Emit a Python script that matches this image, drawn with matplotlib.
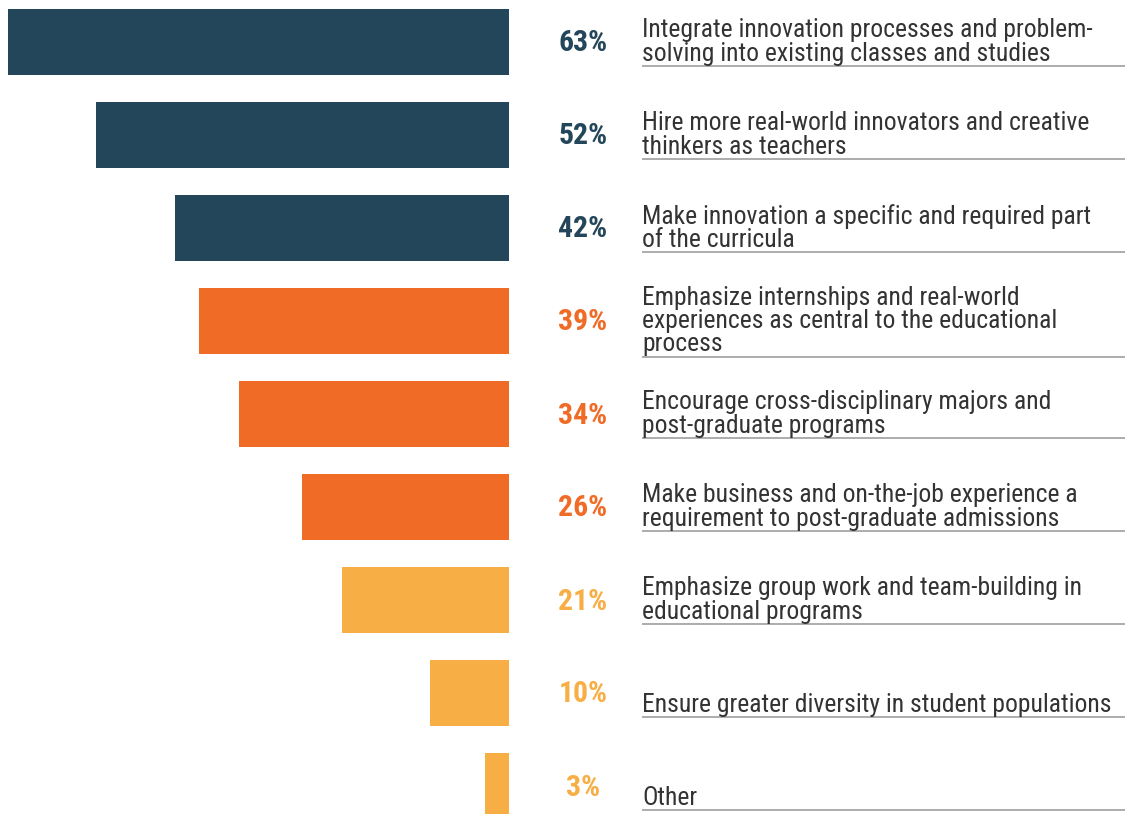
import matplotlib.pyplot as plt
from matplotlib.transforms import Affine2D, blended_transform_factory

labels = [
    "Integrate innovation processes and problem-\nsolving into existing classes and studies",
    "Hire more real-world innovators and creative\nthinkers as teachers",
    "Make innovation a specific and required part\nof the curricula",
    "Emphasize internships and real-world\nexperiences as central to the educational\nprocess",
    "Encourage cross-disciplinary majors and\npost-graduate programs",
    "Make business and on-the-job experience a\nrequirement to post-graduate admissions",
    "Emphasize group work and team-building in\neducational programs",
    "Ensure greater diversity in student populations",
    "Other",
]
values = [63, 52, 42, 39, 34, 26, 21, 10, 3]
groups = ["top", "top", "top", "mid", "mid", "mid", "low", "low", "low"]

COLORS = {"top": "#24465b", "mid": "#f06c26", "low": "#f7ae45"}
TEXT_COLOR = "#333333"
RULE_COLOR = "#a6a6a6"
FONT = ["Roboto Condensed", "Roboto", "DejaVu Sans"]

W, H = 1125, 814
DPI = 100
BAR_RIGHT = 509
PX_PER_PCT = 7.95
ROW_PX = 93
FIRST_CENTER = 42
LINE_PX = 24.5          # baseline-to-baseline distance of label lines
LABEL_WIDTH_PX = 471    # width of "Ensure greater diversity ..." in the reference
PCT_WIDTH_PX = 49       # width of "63%" in the reference


def fit_size(fig, text, target_px, weight="normal", base=15.0):
    probe = fig.text(0, 0, text, fontsize=base, fontweight=weight, family=FONT)
    width = probe.get_window_extent(fig.canvas.get_renderer()).width
    probe.remove()
    return base * target_px / width


fig = plt.figure(figsize=(W / DPI, H / DPI), dpi=DPI)
ax = fig.add_axes([0, 0, BAR_RIGHT / W, 1])
ax.set_xlim(BAR_RIGHT / PX_PER_PCT, 0)
ax.set_ylim((H - FIRST_CENTER) / ROW_PX, -FIRST_CENTER / ROW_PX)
ax.axis("off")

ypos = list(range(len(values)))
ax.barh(ypos, values, height=66 / ROW_PX, color=[COLORS[g] for g in groups], linewidth=0)

label_size = fit_size(fig, labels[7], LABEL_WIDTH_PX)
pct_size = fit_size(fig, "63%", PCT_WIDTH_PX, weight="bold")
spacing = LINE_PX / (label_size * DPI / 72)

# x in figure pixels, y in category units
px = blended_transform_factory(Affine2D().scale(1 / W, 1) + fig.transFigure, ax.transData)

for i, (label, val, grp) in enumerate(zip(labels, values, groups)):
    ax.text(583, i + 1.5 / ROW_PX, f"{val}%", transform=px, ha="center", va="center",
            fontsize=pct_size, fontweight="bold", color=COLORS[grp], family=FONT)
    nlines = label.count("\n") + 1
    body = label if nlines > 1 else "\n" + label
    ax.text(642, i, body, transform=px, ha="left", va="center",
            fontsize=label_size, color=TEXT_COLOR, family=FONT, linespacing=spacing)
    rule_y = i + 12.0 * max(nlines, 2) / ROW_PX
    ax.plot([642, W], [rule_y, rule_y], transform=px, color=RULE_COLOR,
            lw=1.3, clip_on=False, solid_capstyle="butt")

fig.savefig("out.png", dpi=DPI)
